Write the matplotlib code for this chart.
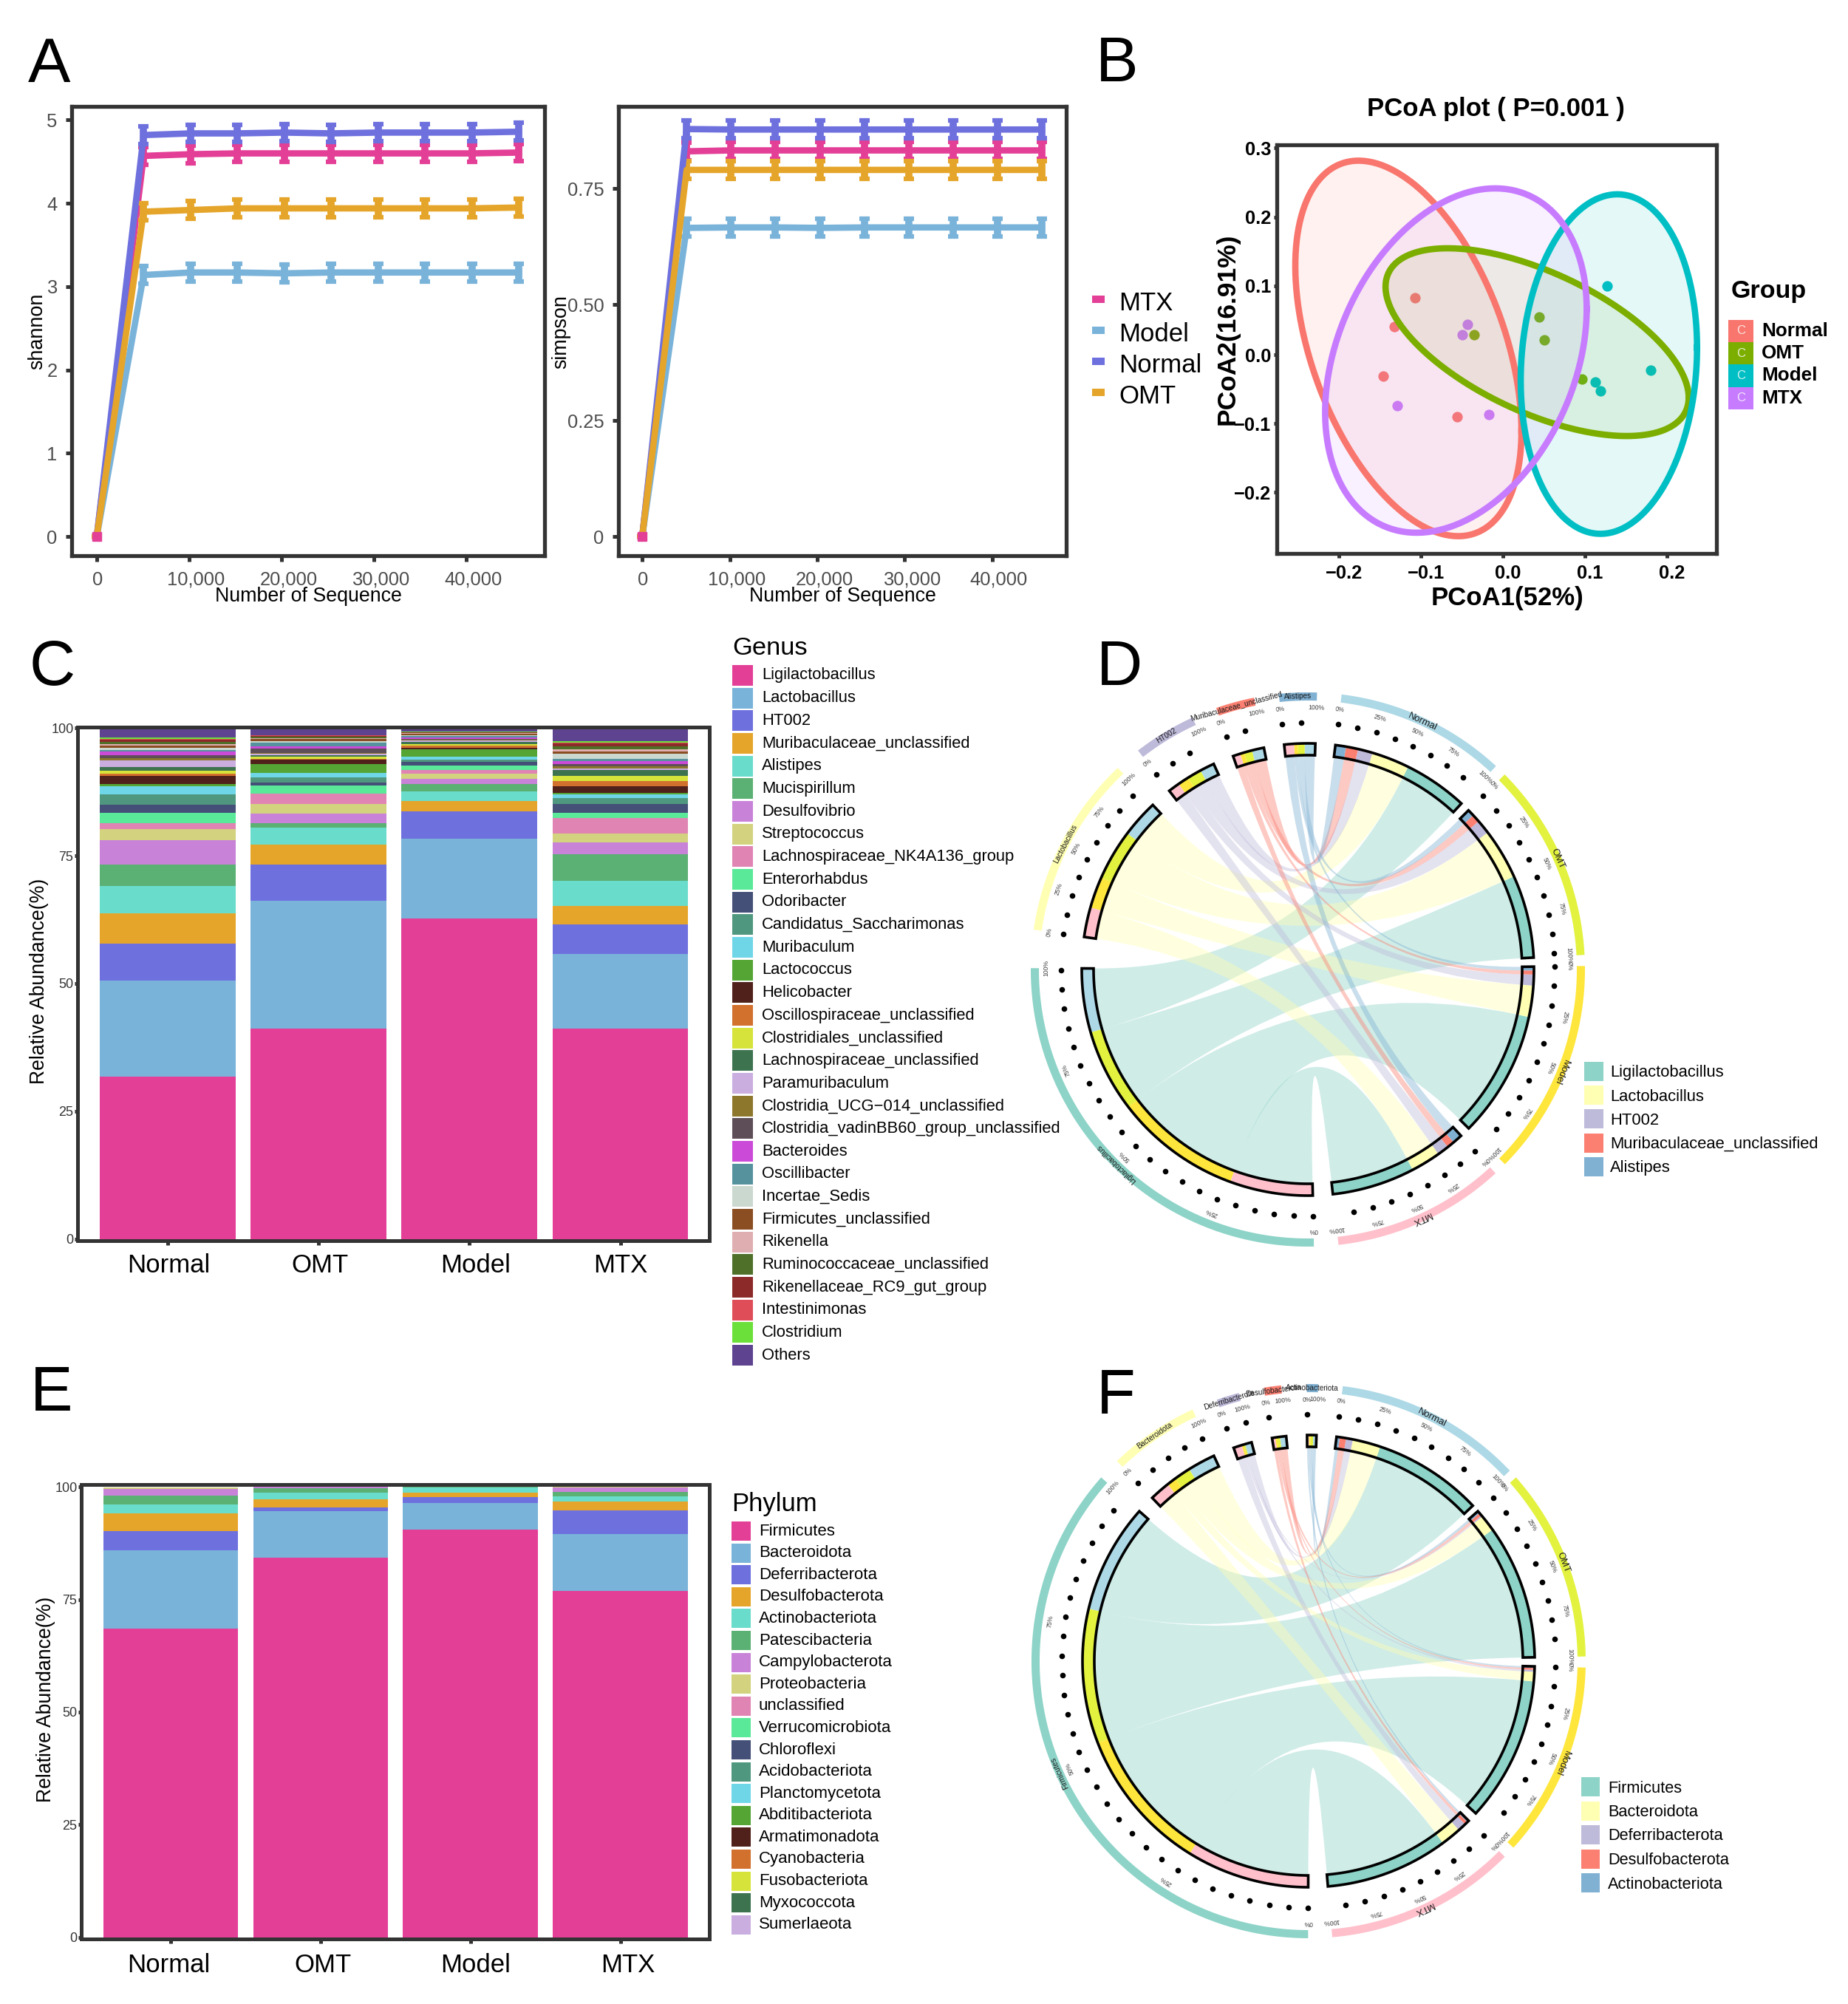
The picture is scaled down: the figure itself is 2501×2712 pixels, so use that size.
import matplotlib
matplotlib.use("Agg")
import matplotlib.pyplot as plt
import numpy as np
from matplotlib.patches import PathPatch, Rectangle
from matplotlib.path import Path
from matplotlib.transforms import ScaledTranslation

W, H = 2501, 2712
plt.rcParams["font.family"] = ["Liberation Sans", "DejaVu Sans"]

# panel A
SEQ_DEPTH = [0, 5076, 10152, 15228, 20304, 25380, 30456, 35532, 40608, 45684]
SHANNON_MTX = [0, 4.57, 4.59, 4.60, 4.60, 4.60, 4.60, 4.60, 4.60, 4.61]
SHANNON_MODEL = [0, 3.14, 3.17, 3.17, 3.16, 3.17, 3.17, 3.17, 3.17, 3.17]
SHANNON_NORMAL = [0, 4.82, 4.84, 4.84, 4.85, 4.84, 4.85, 4.85, 4.85, 4.86]
SHANNON_OMT = [0, 3.90, 3.92, 3.94, 3.94, 3.94, 3.94, 3.94, 3.94, 3.95]
SIMPSON_MTX = [0, 0.830, 0.832, 0.832, 0.832, 0.832, 0.832, 0.832, 0.832, 0.832]
SIMPSON_MODEL = [0, 0.665, 0.666, 0.666, 0.665, 0.666, 0.666, 0.666, 0.666, 0.666]
SIMPSON_NORMAL = [0, 0.878, 0.877, 0.877, 0.877, 0.877, 0.877, 0.877, 0.877, 0.877]
SIMPSON_OMT = [0, 0.790, 0.790, 0.790, 0.790, 0.790, 0.790, 0.790, 0.790, 0.790]
A_NAMES = ["MTX", "Model", "Normal", "OMT"]
A_COLORS = ["#E33F97", "#7AB3D9", "#6E70DE", "#E5A52A"]

# panel B
PCOA_GROUPS = ["Normal", "OMT", "Model", "MTX"]
PCOA_COLORS = ["#F8766D", "#7CAE00", "#00BFC4", "#C77CFF"]
PCOA_X = [[-0.107, -0.1324, -0.1457, -0.0562],
          [-0.0351, 0.0441, 0.0508, 0.0961],
          [0.1269, 0.1124, 0.1191, 0.1801],
          [-0.0429, -0.0496, -0.1287, -0.0169]]
PCOA_Y = [[0.0824, 0.0403, -0.0307, -0.0897],
          [0.0295, 0.0545, 0.021, -0.0352],
          [0.1, -0.0398, -0.0528, -0.0222],
          [0.0437, 0.0295, -0.0744, -0.0869]]
ELLIPSE_CX = [-0.1154, 0.0417, 0.1293, -0.0574]
ELLIPSE_CY = [0.0091, 0.0182, -0.0136, -0.0085]
ELLIPSE_RX = [0.138, 0.185, 0.1076, 0.1596]
ELLIPSE_RY = [0.2726, 0.1363, 0.2465, 0.25]
ELLIPSE_RHO = [-0.44, -0.59, 0.096, 0.30]

# panels C and E
SAMPLES = ["Normal", "OMT", "Model", "MTX"]
GENUS = ["Ligilactobacillus", "Lactobacillus", "HT002", "Muribaculaceae_unclassified", "Alistipes",
         "Mucispirillum", "Desulfovibrio", "Streptococcus", "Lachnospiraceae_NK4A136_group",
         "Enterorhabdus", "Odoribacter", "Candidatus_Saccharimonas", "Muribaculum", "Lactococcus",
         "Helicobacter", "Oscillospiraceae_unclassified", "Clostridiales_unclassified",
         "Lachnospiraceae_unclassified", "Paramuribaculum", "Clostridia_UCG\u2212014_unclassified",
         "Clostridia_vadinBB60_group_unclassified", "Bacteroides", "Oscillibacter", "Incertae_Sedis",
         "Firmicutes_unclassified", "Rikenella", "Ruminococcaceae_unclassified",
         "Rikenellaceae_RC9_gut_group", "Intestinimonas", "Clostridium", "Others"]
STACK_COLORS = ["#E33F97", "#7AB3D9", "#6E70DE", "#E5A52A", "#6ADCCB", "#5BB074", "#C882D8", "#D2D27F",
                "#E084B4", "#5AE899", "#445078", "#4F987F", "#6FD6E8", "#55A535", "#50201A", "#D2702E",
                "#D5E33A", "#3E7350", "#C9AEDF", "#8C772C", "#5E4E58", "#CB4AD8", "#56929E", "#CAD8D0",
                "#8A4E22", "#DEAEB0", "#4F7029", "#8C2A2A", "#DF4E58", "#6BE03A", "#5E4490"]
GENUS_NORMAL = [31.76, 18.75, 7.27, 6.02, 5.26, 4.29, 4.71, 2.21, 1.11, 2.0, 1.66, 1.94, 1.66, 0.35, 1.66, 0.42,
                0.62, 0.69, 1.31, 0.42, 0.55, 0.83, 0.28, 0.42, 0.42, 0.28, 0.35, 0.48, 0.14, 0.35, 1.8]
GENUS_OMT = [41.1, 25.12, 7.06, 3.94, 3.32, 0.83, 1.87, 1.87, 2.08, 1.52, 0.62, 1.04, 0.9, 1.73, 0.83, 0.14,
             0.48, 0.28, 0.21, 0.21, 0.83, 0.42, 0.76, 0.28, 0.42, 0.21, 0.28, 0.14, 0.07, 0.07, 1.38]
GENUS_MODEL = [62.77, 15.57, 5.4, 2.0, 1.87, 1.38, 1.04, 1.11, 0.69, 0.83, 0.76, 0.35, 0.69, 1.45, 0.28, 0.42,
               0.28, 0.48, 0.21, 0.14, 0.14, 0.35, 0.21, 0.21, 0.21, 0.14, 0.07, 0.07, 0.07, 0.07, 0.76]
GENUS_MTX = [41.1, 14.74, 5.74, 3.67, 4.84, 5.19, 2.35, 1.8, 2.98, 0.97, 1.8, 1.11, 0.76, 0.28, 1.25, 1.11,
             0.97, 1.18, 0.21, 0.48, 0.42, 0.55, 0.55, 0.9, 0.42, 0.42, 0.69, 0.48, 0.14, 0.28, 2.63]

PHYLUM = ["Firmicutes", "Bacteroidota", "Deferribacterota", "Desulfobacterota", "Actinobacteriota",
          "Patescibacteria", "Campylobacterota", "Proteobacteria", "unclassified", "Verrucomicrobiota",
          "Chloroflexi", "Acidobacteriota", "Planctomycetota", "Abditibacteriota", "Armatimonadota",
          "Cyanobacteria", "Fusobacteriota", "Myxococcota", "Sumerlaeota"]
PHYLUM_NORMAL = [68.5, 17.4, 4.25, 3.94, 2.05, 1.89, 1.57, 0.31]
PHYLUM_OMT = [84.25, 10.31, 0.87, 1.81, 1.57, 0.94, 0.24, 0.01]
PHYLUM_MODEL = [90.55, 5.91, 1.26, 1.1, 1.02, 0.16, 0.0, 0.0]
PHYLUM_MTX = [76.85, 12.68, 5.2, 1.97, 1.18, 1.02, 1.02, 0.08]

# chord panels
CHORD_COLORS = ["#8DD3C7", "#FFFFB3", "#BEBADA", "#FB8072", "#80B1D3"]
CHORD_GROUP_COLORS = ["#ADD8E6", "#E3F23F", "#FFE63C", "#FFC0CB"]
D_GAPS = [2.5, 2.3, 2.7, 5.1, 8.0, 5.5, 5.3, 5.2, 5.1]
F_GAPS = [1.9, 2.3, 2.6, 5.0, 4.7, 5.4, 5.3, 5.3, 5.1]


def px_axes(fig, x0, y0, x1, y1):
    return fig.add_axes([x0 / W, 1 - y1 / H, (x1 - x0) / W, (y1 - y0) / H])


def style_box(ax, lw=3.8):
    for s in ax.spines.values():
        s.set_linewidth(lw)
        s.set_color("#333333")


def shift_labels(fig, labels, shifts):
    for lab, dx in zip(labels, shifts):
        off = ScaledTranslation(dx / fig.dpi, 0, fig.dpi_scale_trans)
        lab.set_transform(lab.get_transform() + off)


def rare_panel(fig, box, series, yerr, yticks, ylabels, ylim):
    ax = px_axes(fig, *box)
    x = np.array(SEQ_DEPTH)
    for i in [2, 0, 1, 3]:
        y = np.array(series[i])
        err = np.where(y > 0, yerr, 0)
        ax.errorbar(x, y, yerr=err, color=A_COLORS[i], lw=6.2, elinewidth=7, capsize=5.2, capthick=4.5, zorder=3 + i * 0.1)
    ax.plot(x[:1], series[0][:1], "s", color=A_COLORS[0], ms=8.5, zorder=8, clip_on=False)
    ax.set_xlim(-2720, 48480)
    ax.set_ylim(*ylim)
    ax.set_xticks([0, 10000, 20000, 30000, 40000])
    ax.set_xticklabels(["0", "10,000", "20,000", "30,000", "40,000"], fontsize=18.4, color="#4D4D4D")
    ax.set_yticks(yticks)
    ax.set_yticklabels(ylabels, fontsize=18.4, color="#4D4D4D")
    ax.tick_params(axis="x", length=6, width=3.6, color="#333333", pad=9)
    ax.tick_params(axis="y", length=6, width=3.6, color="#333333", pad=8)
    style_box(ax)
    shift_labels(fig, ax.get_xticklabels(), [1, 9.5, 9.5, 9.5, 9])
    return ax


def pcoa_panel(fig):
    ax = px_axes(fig, 1727.5, 196, 2323, 749)
    t = np.linspace(0, 2 * np.pi, 300)
    for i, c in enumerate(PCOA_COLORS):
        ax.scatter(PCOA_X[i], PCOA_Y[i], s=105, color=c, lw=0, zorder=1)
    for i, c in enumerate(PCOA_COLORS):
        ex = ELLIPSE_CX[i] + ELLIPSE_RX[i] * np.cos(t)
        ey = ELLIPSE_CY[i] + ELLIPSE_RY[i] * np.cos(t - np.arccos(ELLIPSE_RHO[i]))
        ax.fill(ex, ey, color=c, alpha=0.1, lw=0, zorder=2)
        ax.plot(ex, ey, color=c, lw=6.2, zorder=3)
    ax.set_xlim(-0.2764, 0.2606)
    ax.set_ylim(-0.2886, 0.3047)
    ax.set_xticks([-0.2, -0.1, 0, 0.1, 0.2])
    ax.set_xticklabels(["\u22120.2", "\u22120.1", "0.0", "0.1", "0.2"], fontsize=18.3, fontweight="bold")
    ax.set_yticks([-0.2, -0.1, 0, 0.1, 0.2, 0.3])
    ax.set_yticklabels(["\u22120.2", "\u22120.1", "0.0", "0.1", "0.2", "0.3"], fontsize=18.3, fontweight="bold")
    ax.tick_params(axis="x", length=4, width=3.6, color="#333333", pad=7)
    ax.tick_params(axis="y", length=3, width=3.6, color="#333333", pad=2)
    style_box(ax)
    shift_labels(fig, ax.get_xticklabels(), [7, 7, 7, 7, 7])
    return ax


def stack_panel(fig, box, columns, colors, xlim, ylim, label_shift, label_pad):
    ax = px_axes(fig, *box)
    bottom = np.zeros(4)
    rows = np.array(columns)
    for j in range(rows.shape[1]):
        ax.bar([1, 2, 3, 4], rows[:, j], width=0.9, bottom=bottom, color=colors[j], lw=0)
        bottom += rows[:, j]
    ax.set_xlim(*xlim)
    ax.set_ylim(*ylim)
    ax.set_xticks([1, 2, 3, 4])
    ax.set_xticklabels(SAMPLES, fontsize=25)
    ax.set_yticks([0, 25, 50, 75, 100])
    ax.set_yticklabels(["0", "25", "50", "75", "100"], fontsize=13, color="#333333")
    ax.tick_params(axis="x", length=4, width=3.6, color="#333333", pad=label_pad)
    ax.tick_params(axis="y", length=3, width=3.6, color="#333333", pad=1)
    style_box(ax, 3.6)
    shift_labels(fig, ax.get_xticklabels(), label_shift)
    return ax


def polar(cx, cy, r, a):
    a = np.radians(a)
    return cx + r * np.sin(a), cy - r * np.cos(a)


def annular(ax, cx, cy, r0, r1, a0, a1, **kw):
    t = np.linspace(a0, a1, max(int(abs(a1 - a0)) * 2, 2) + 1)
    xo, yo = polar(cx, cy, r1, t)
    xi, yi = polar(cx, cy, r0, t[::-1])
    ax.fill(np.r_[xo, xi], np.r_[yo, yi], **kw)


def ribbon(ax, cx, cy, r, a0, a1, b0, b1, color, alpha):
    ta = np.linspace(a0, a1, 25)
    tb = np.linspace(b0, b1, 25)
    xa, ya = polar(cx, cy, r, ta)
    xb, yb = polar(cx, cy, r, tb)
    verts = list(zip(xa, ya))
    codes = [Path.MOVETO] + [Path.LINETO] * 24
    verts += [(cx, cy), (xb[0], yb[0])]
    codes += [Path.CURVE3, Path.CURVE3]
    verts += list(zip(xb[1:], yb[1:]))
    codes += [Path.LINETO] * 24
    verts += [(cx, cy), (xa[0], ya[0])]
    codes += [Path.CURVE3, Path.CURVE3]
    ax.add_patch(PathPatch(Path(verts, codes), facecolor=color, edgecolor="none", alpha=alpha, zorder=1))


def chord_panel(ax, cx, cy, values, genus_names, start, gaps, dot_step):
    vals = np.array(values, float)
    group_sums = vals.sum(axis=1)
    genus_sums = vals.sum(axis=0)
    k = (360 - sum(gaps)) / (group_sums.sum() * 2)
    names = SAMPLES + genus_names
    sizes = list(group_sums) + list(genus_sums)
    colors = CHORD_GROUP_COLORS + CHORD_COLORS
    starts = []
    ang = start
    for i, s in enumerate(sizes):
        starts.append(ang)
        ang += s * k + gaps[i]

    # offsets inside each sector, clockwise from its start
    n_group, n_genus = vals.shape
    group_pos = {}
    for i in range(n_group):
        a = starts[i]
        for g in range(n_genus - 1, -1, -1):
            group_pos[(i, g)] = (a, a + vals[i, g] * k)
            a += vals[i, g] * k
    genus_pos = {}
    for g in range(n_genus):
        a = starts[n_group + g]
        for i in range(n_group - 1, -1, -1):
            genus_pos[(i, g)] = (a, a + vals[i, g] * k)
            a += vals[i, g] * k

    for g in range(n_genus):
        for i in range(n_group):
            a0, a1 = group_pos[(i, g)]
            b0, b1 = genus_pos[(i, g)]
            ribbon(ax, cx, cy, 289, a0, a1, b0, b1, CHORD_COLORS[g], 0.42)
            annular(ax, cx, cy, 290, 306, a0, a1, color=CHORD_COLORS[g], lw=0, zorder=2)
            annular(ax, cx, cy, 290, 306, b0, b1, color=CHORD_GROUP_COLORS[i], lw=0, zorder=2)

    for i, name in enumerate(names):
        a0 = starts[i]
        a1 = a0 + sizes[i] * k
        annular(ax, cx, cy, 290, 306, a0, a1, facecolor="none", edgecolor="black", lw=2.6, zorder=3)
        annular(ax, cx, cy, 364, 375, a0, a1, color=colors[i], lw=0, zorder=2)
        tick_a = a0 + np.arange(0, sizes[i], dot_step) * k
        xd, yd = polar(cx, cy, 334, tick_a)
        ax.scatter(xd, yd, s=30, color="black", lw=0, zorder=3)
        span = a1 - a0
        fracs = [0, 0.25, 0.5, 0.75, 1] if span > 20 else [0, 1]
        for f in fracs:
            pa = a0 + f * span
            px_, py_ = polar(cx, cy, 354, pa)
            ax.text(px_, py_, f"{int(f * 100)}%", fontsize=6.2, color="#404040", rotation=-pa,
                    rotation_mode="anchor", ha="center", va="center", zorder=4)
        mid = (a0 + a1) / 2
        lx, ly = polar(cx, cy, 369.5, mid)
        ax.text(lx, ly, name, fontsize=9.4 if i < n_group else 7.2, color="#1A1A1A", rotation=-mid,
                rotation_mode="anchor", ha="center", va="center", zorder=5)


def key_list(ax, names, colors, x0, x1, y_first, step, box_h, text_x, fontsize, text_dy=0, **kw):
    for i, (name, c) in enumerate(zip(names, colors)):
        y = y_first + i * step
        ax.add_patch(Rectangle((x0, y - box_h / 2), x1 - x0, box_h, facecolor=c, edgecolor="none"))
        ax.text(text_x, y + text_dy, name, fontsize=fontsize, va="center", ha="left", **kw)


def main():
    fig = plt.figure(figsize=(W / 100, H / 100), dpi=100)
    over = fig.add_axes([0, 0, 1, 1], zorder=0)
    over.set_xlim(0, W)
    over.set_ylim(H, 0)
    over.axis("off")

    # A
    rare_panel(fig, (97, 144, 737, 752), [SHANNON_MTX, SHANNON_MODEL, SHANNON_NORMAL, SHANNON_OMT], 0.105,
               [0, 1, 2, 3, 4, 5], ["0", "1", "2", "3", "4", "5"], (-0.23, 5.164))
    rare_panel(fig, (837, 144, 1443, 752), [SIMPSON_MTX, SIMPSON_MODEL, SIMPSON_NORMAL, SIMPSON_OMT], 0.019,
               [0, 0.25, 0.5, 0.75], ["0", "0.25", "0.50", "0.75"], (-0.0414, 0.9268))
    over.text(417, 807, "Number of Sequence", fontsize=19.3, ha="center", va="center")
    over.text(1140, 807, "Number of Sequence", fontsize=19.3, ha="center", va="center")
    over.text(50, 448, "shannon", fontsize=19.4, rotation=90, ha="center", va="center")
    over.text(759, 449, "simpson", fontsize=19.4, rotation=90, ha="center", va="center")
    key_list(over, A_NAMES, A_COLORS, 1478, 1495, 405, 42, 10, 1514, 25, text_dy=6)

    # B
    pcoa_panel(fig)
    over.text(2024, 147, "PCoA plot ( P=0.001 )", fontsize=25, fontweight="bold", ha="center", va="center")
    over.text(2040, 809, "PCoA1(52%)", fontsize=25, fontweight="bold", ha="center", va="center")
    over.text(1661, 445, "PCoA2(16.91%)", fontsize=25.5, fontweight="bold", rotation=90, ha="center", va="center")
    over.text(2343, 394, "Group", fontsize=24.5, fontweight="bold", ha="left", va="center")
    key_list(over, PCOA_GROUPS, PCOA_COLORS, 2339, 2373, 448, 30.2, 30.2, 2384, 18.8, fontweight="bold")
    for i in range(4):
        over.text(2356, 448 + i * 30.2, "C", fontsize=12, color="white", alpha=0.8, ha="center", va="center")

    # C
    stack_panel(fig, (105, 984, 960, 1679), [GENUS_NORMAL, GENUS_OMT, GENUS_MODEL, GENUS_MTX], STACK_COLORS,
                (0.403, 4.59), (-0.35, 100.2), [1, 2, 8, 0], 8)
    over.text(53, 1328, "Relative Abundance(%)", fontsize=19.2, rotation=90, ha="center", va="center")
    over.text(991, 877, "Genus", fontsize=24.8, ha="left", va="center")
    key_list(over, GENUS, STACK_COLORS, 991, 1019, 914, 30.67, 28, 1031, 15.8)

    # E
    stack_panel(fig, (110, 2009, 960, 2624), [PHYLUM_NORMAL, PHYLUM_OMT, PHYLUM_MODEL, PHYLUM_MTX], STACK_COLORS,
                (0.4025, 4.594), (-0.39, 100.55), [-3, 3, 7, 10], 10)
    over.text(62, 2300, "Relative Abundance(%)", fontsize=19.2, rotation=90, ha="center", va="center")
    over.text(990, 2036, "Phylum", fontsize=25, ha="left", va="center")
    key_list(over, PHYLUM, STACK_COLORS, 990, 1016, 2072, 29.6, 26, 1027, 16)

    # D
    chord_d = [GENUS_NORMAL[:5], GENUS_OMT[:5], GENUS_MODEL[:5], GENUS_MTX[:5]]
    chord_panel(over, 1770, 1312, chord_d, GENUS[:5], 7.0, D_GAPS, 8.8)
    key_list(over, GENUS[:5], CHORD_COLORS, 2144, 2170, 1450, 32.2, 26, 2179, 15.8, text_dy=2)

    # F
    chord_f = [PHYLUM_NORMAL[:5], PHYLUM_OMT[:5], PHYLUM_MODEL[:5], PHYLUM_MTX[:5]]
    chord_panel(over, 1771, 2248, chord_f, PHYLUM[:5], 7.1, F_GAPS, 11.1)
    key_list(over, PHYLUM[:5], CHORD_COLORS, 2140, 2165, 2418, 32.5, 26, 2176, 15.7, text_dy=2)

    for letter, x, y in [("A", 38, 111), ("B", 1483, 110), ("C", 40, 927), ("D", 1484, 927), ("E", 41, 1909), ("F", 1484, 1913)]:
        over.text(x, y, letter, fontsize=62, ha="left", va="baseline")

    fig.savefig("out.png", dpi=100)


if __name__ == "__main__":
    main()
